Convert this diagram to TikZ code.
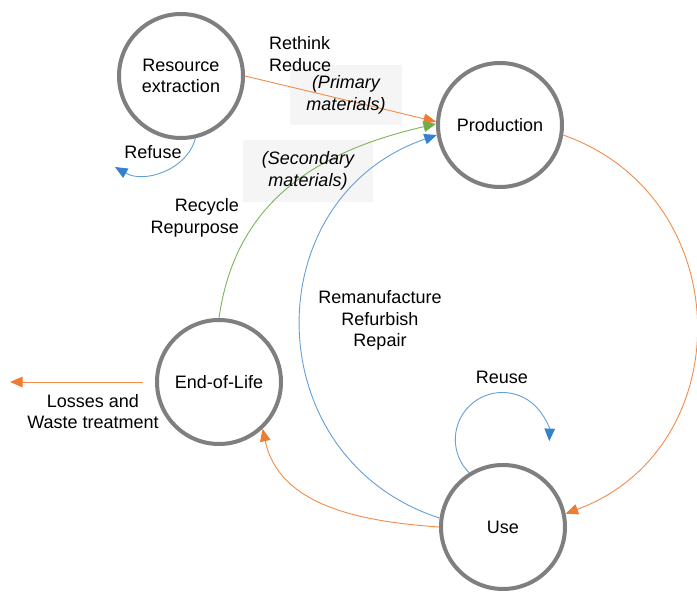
\documentclass[tikz,border=0pt]{standalone}
\usepackage{fontspec}
\setmainfont{Liberation Sans}
\usetikzlibrary{arrows.meta}
\definecolor{corange}{RGB}{243,140,75}
\definecolor{corangeh}{RGB}{237,125,49}
\definecolor{cgreen}{RGB}{125,180,90}
\definecolor{cgreenh}{RGB}{112,173,71}
\definecolor{cblue}{RGB}{100,160,215}
\definecolor{cblueh}{RGB}{52,130,205}
\definecolor{cring}{RGB}{127,127,127}
\definecolor{cbox}{RGB}{245,245,245}
\begin{document}
\begin{tikzpicture}[x=1pt,y=1pt,
  stage/.style={circle, draw=cring, fill=white, line width=4pt, minimum size=124pt, inner sep=0pt, align=center, font=\fontsize{18}{21.5}\selectfont},
  lbl/.style={align=center, font=\fontsize{18}{21.5}\selectfont, inner sep=0pt},
  ital/.style={align=center, font=\fontsize{18}{21.5}\selectfont\itshape, inner sep=0pt},
  graybox/.style={fill=cbox, draw=none, inner sep=0pt},
  conn/.style={line width=0.9pt},
  otip/.style={conn, draw=corange, -{Triangle[length=12.5pt,width=10.5pt,color=corangeh]}},
  gtip/.style={conn, draw=cgreen, -{Triangle[length=12.5pt,width=10.5pt,color=cgreenh]}},
  btip/.style={conn, draw=cblue, -{Triangle[length=12.5pt,width=10.5pt,color=cblueh]}}
]
\useasboundingbox (0,0) rectangle (697,592);
\fill[white] (0,0) rectangle (697,592);

% gray label boxes
\node[graybox, minimum width=112pt, minimum height=60pt] (primbox) at (346,497) {};
\node[graybox, minimum width=130pt, minimum height=62pt] (secbox) at (308,421) {};

% stages
\node[stage] (res) at (181,516) {Resource\\extraction};
\node[stage] (prod) at (500,467) {Production};
\node[stage] (eol) at (219,210) {End-of-Life};
\node[stage] (use) at (503,65) {Use};

\coordinate (refuseend) at (115,425);
\coordinate (lossend) at (10,210);

% connectors
\draw[otip] (res.east) -- (prod.177);
\draw[gtip] (eol.north) to[out=82, in=193, looseness=1.05] (prod.179);
\draw[btip] (use.172) to[out=162, in=199, looseness=1.29] (prod.189);
\draw[otip] (prod.-9) to[out=-19.5, in=20.3, looseness=1.26] (use.12);
\draw[otip] (use.180) to[out=176, in=-78, looseness=1] (eol.-47);
\draw[otip, shorten <=12pt] (eol.west) -- (lossend);
\draw[btip] (res.-77) to[out=-105, in=-30, looseness=1] (refuseend);
\draw[btip] (use.122) arc[start angle=225, end angle=-2, radius=47];

% labels
\node[lbl, align=left, anchor=west] (rethink) at (269,538) {Rethink\\Reduce};
\node[ital] (primary) at (primbox.center) {(Primary\\materials)};
\node[ital] (secondary) at (secbox.center) {(Secondary\\materials)};
\node[lbl] (refuse) at (153,440) {Refuse};
\node[lbl, align=right, anchor=east] (recycle) at (239,374) {Recycle\\Repurpose};
\node[lbl] (reman) at (380,271.5) {Remanufacture\\Refurbish\\Repair};
\node[lbl] (reuse) at (502,215) {Reuse};
\node[lbl] (losses) at (93,180.5) {Losses and\\Waste treatment};
\end{tikzpicture}
\end{document}
